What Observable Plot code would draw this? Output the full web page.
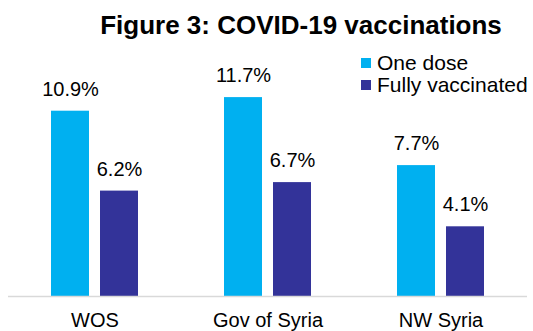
<!DOCTYPE html>
<html>
<head>
<meta charset="utf-8">
<script src="https://cdn.jsdelivr.net/npm/d3@7"></script>
<script src="https://cdn.jsdelivr.net/npm/@observablehq/plot@0.6"></script>
<style>
  html, body { margin: 0; padding: 0; background: #fff; }
  #wrap { position: relative; width: 533px; height: 331px; font-family: "Liberation Sans", Arial, sans-serif; color: #000; overflow: hidden; }
  #title { position: absolute; left: 0; top: 0; width: 533px; height: 45px; box-sizing: border-box; padding-left: 69px; text-align: center; font-weight: bold; font-size: 26px; line-height: 51px; }
  #chart { position: absolute; left: 0; top: 45px; }
  #legend { position: absolute; left: 361px; top: 52px; font-size: 21px; line-height: 22px; }
  .item { display: flex; align-items: center; white-space: nowrap; }
  .sw { width: 10px; height: 10px; margin-right: 6px; }
</style>
</head>
<body>
<div id="wrap">
  <div id="title">Figure 3: COVID-19 vaccinations</div>
  <div id="chart"></div>
  <div id="legend"></div>
</div>
<script>
const groups = ["WOS", "Gov of Syria", "NW Syria"];
const series = ["One dose", "Fully vaccinated"];
const oneDose = [10.9, 11.7, 7.7];
const fullyVaccinated = [6.2, 6.7, 4.1];
const colors = ["#00B0F0", "#333399"];

const data = groups.flatMap((g, i) => [
  {group: g, series: series[0], value: oneDose[i]},
  {group: g, series: series[1], value: fullyVaccinated[i]}
]);

const plot = Plot.plot({
  width: 533,
  height: 286,
  marginLeft: 7,
  marginRight: 6,
  marginTop: 13,
  marginBottom: 35,
  style: {fontFamily: "'Liberation Sans', Arial, sans-serif", fontSize: "20px", color: "#000", background: "#fff"},
  fx: {domain: groups, padding: 0, label: null, axis: "bottom", tickSize: 0, tickPadding: 16},
  x: {domain: series, paddingInner: 0.22, paddingOuter: 0.843, axis: null},
  y: {domain: [0, 14], axis: null},
  color: {domain: series, range: colors},
  marks: [
    Plot.barY(data, {fx: "group", x: "series", y: "value", fill: "series"}),
    Plot.ruleY([0], {stroke: "#d9d9d9", strokeWidth: 1.5}),
    Plot.text(data, {fx: "group", x: "series", y: "value", text: d => d.value.toFixed(1) + "%", dy: -22, fontSize: 20, fill: "#000"})
  ]
});
document.getElementById("chart").appendChild(plot);

const colorScale = plot.scale("color");
const legend = document.getElementById("legend");
series.forEach(s => {
  const item = document.createElement("div");
  item.className = "item";
  const sw = document.createElement("span");
  sw.className = "sw";
  sw.style.background = colorScale.apply(s);
  const label = document.createElement("span");
  label.textContent = s;
  item.appendChild(sw);
  item.appendChild(label);
  legend.appendChild(item);
});
</script>
</body>
</html>
